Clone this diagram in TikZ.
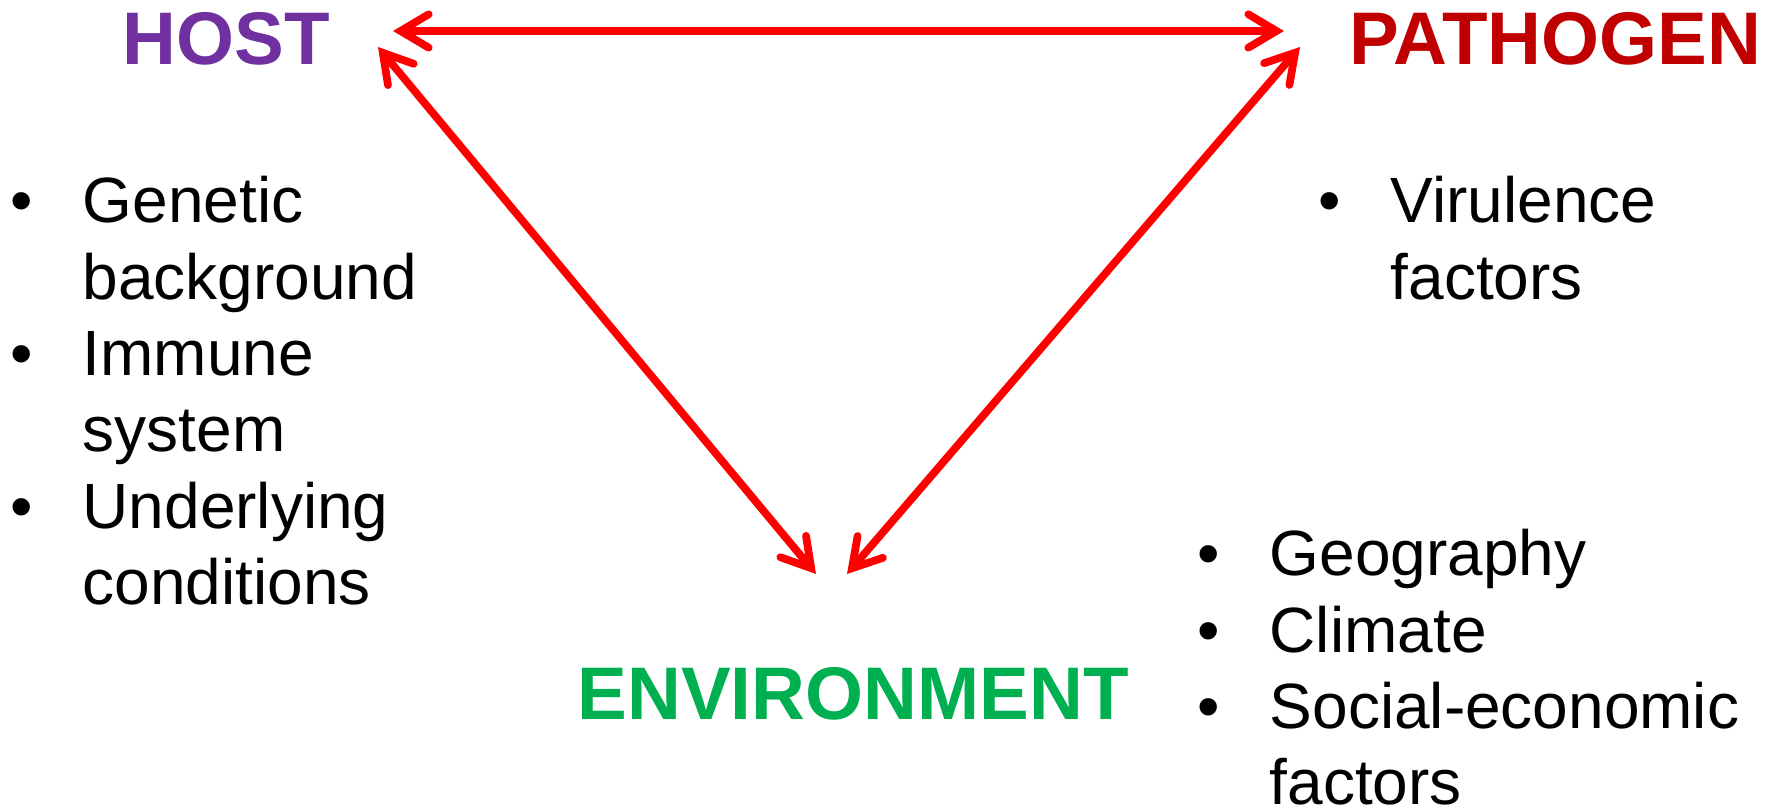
\documentclass[tikz,border=0pt]{standalone}
\usepackage{fontspec}
\setmainfont{Liberation Sans}
\usepackage{xcolor}
\usetikzlibrary{arrows.meta, positioning}
\definecolor{hostpurple}{HTML}{7030A0}
\definecolor{pathred}{HTML}{C00000}
\definecolor{envgreen}{HTML}{00B050}
\definecolor{linkred}{HTML}{FF0000}
\tikzset{
  title/.style={anchor=base west, inner sep=0pt,
    font=\fontsize{21.2}{25}\selectfont\bfseries},
  items/.style={anchor=base west, inner sep=0pt,
    font=\fontsize{18.2}{21.7}\selectfont},
  link/.style={{Straight Barb[length=8pt, width=9.5pt, line cap=round]}-{Straight Barb[length=8pt, width=9.5pt, line cap=round]},
    line width=2.2pt, color=linkred, line cap=round}
}
\newcommand{\bulletlist}[1]{\begin{tabular}[t]{@{}p{0.72cm}@{}l@{}}#1\end{tabular}}

\begin{document}
\begin{tikzpicture}[x=0.01cm, y=-0.01cm]
  \useasboundingbox (0,0) rectangle (1773,810);

  % the three corners
  \node[title, text=hostpurple] (host) at (122,65) {HOST};
  \node[title, text=pathred] (pathogen) at (1349,65) {PATHOGEN};
  \node[title, text=envgreen] (environment) at (577,719) {ENVIRONMENT};

  % factor lists
  \node[items] (hostlist) at (10,223) {\bulletlist{%
    • & Genetic\\ & background\\
    • & Immune\\ & system\\
    • & Underlying\\ & conditions}};
  \node[items] (pathlist) at (1318,223) {\bulletlist{%
    • & Virulence\\ & factors}};
  \node[items] (envlist) at (1197,576) {\bulletlist{%
    • & Geography\\
    • & Climate\\
    • & Social-economic\\ & factors}};

  % arrow ends
  \coordinate (hostR) at (393,31);
  \coordinate (hostD) at (378,47);
  \coordinate (pathL) at (1284,31);
  \coordinate (pathD) at (1300,47);
  \coordinate (envL) at (816,574);
  \coordinate (envR) at (847,574);

  \draw[link] (hostR) -- (pathL);
  \draw[link] (hostD) -- (envL);
  \draw[link] (pathD) -- (envR);
\end{tikzpicture}
\end{document}
